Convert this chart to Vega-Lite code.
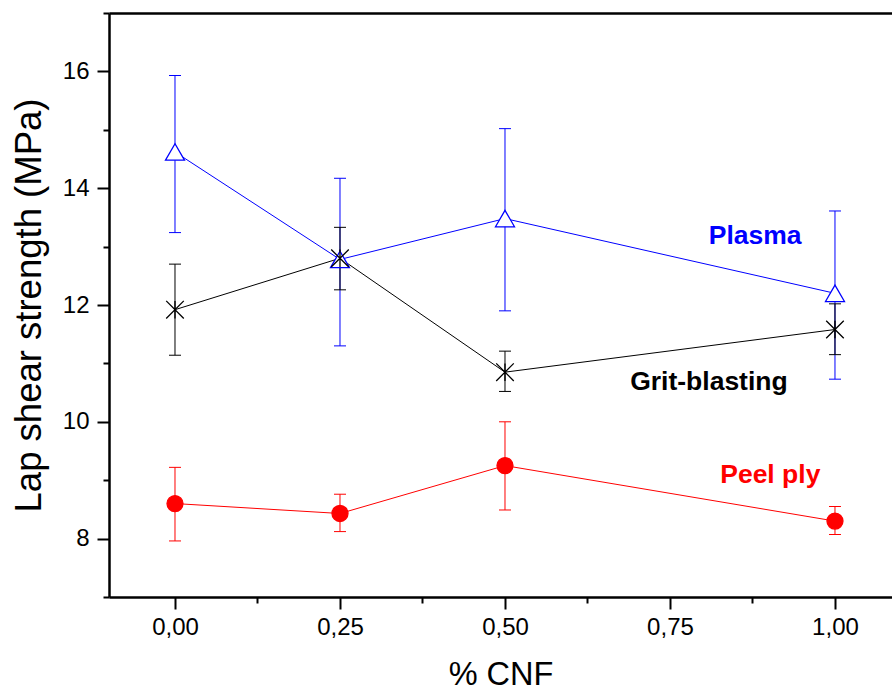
{
  "$schema": "https://vega.github.io/schema/vega-lite/v6.json",
  "width": 783,
  "height": 584,
  "autosize": {"type": "none"},
  "padding": {"left": 109, "top": 13, "right": 0, "bottom": 93},
  "config": {
    "view": {"stroke": null},
    "font": "Liberation Sans",
    "axis": {
      "grid": false,
      "domainColor": "#000000",
      "domainWidth": 2.5,
      "tickColor": "#000000",
      "tickWidth": 2,
      "labelColor": "#000000",
      "titleColor": "#000000",
      "titleFontWeight": "normal",
      "labelFont": "Liberation Sans",
      "titleFont": "Liberation Sans"
    }
  },
  "datasets": {
    "pts": [
      {"series": "Plasma", "cnf": 0.0, "mean": 14.62, "lo": 13.24, "hi": 15.93},
      {"series": "Plasma", "cnf": 0.25, "mean": 12.78, "lo": 11.3, "hi": 14.17},
      {"series": "Plasma", "cnf": 0.5, "mean": 13.48, "lo": 11.9, "hi": 15.02},
      {"series": "Plasma", "cnf": 1.0, "mean": 12.2, "lo": 10.73, "hi": 13.61},
      {"series": "Grit-blasting", "cnf": 0.0, "mean": 11.92, "lo": 11.14, "hi": 12.7},
      {"series": "Grit-blasting", "cnf": 0.25, "mean": 12.8, "lo": 12.26, "hi": 13.33},
      {"series": "Grit-blasting", "cnf": 0.5, "mean": 10.85, "lo": 10.52, "hi": 11.21},
      {"series": "Grit-blasting", "cnf": 1.0, "mean": 11.58, "lo": 11.15, "hi": 12.02},
      {"series": "Peel ply", "cnf": 0.0, "mean": 8.6, "lo": 7.96, "hi": 9.22},
      {"series": "Peel ply", "cnf": 0.25, "mean": 8.43, "lo": 8.12, "hi": 8.76},
      {"series": "Peel ply", "cnf": 0.5, "mean": 9.25, "lo": 8.49, "hi": 10.0},
      {"series": "Peel ply", "cnf": 1.0, "mean": 8.3, "lo": 8.07, "hi": 8.55}
    ],
    "labels": [
      {"series": "Plasma", "text": "Plasma", "cnf": 0.879, "val": 13.04},
      {"series": "Grit-blasting", "text": "Grit-blasting", "cnf": 0.809, "val": 10.54},
      {"series": "Peel ply", "text": "Peel ply", "cnf": 0.902, "val": 8.96}
    ]
  },
  "resolve": {"axis": {"x": "independent", "y": "independent"}},
  "layer": [
    {
      "data": {"name": "pts"},
      "mark": {"type": "rule", "strokeWidth": 1},
      "encoding": {
        "x": {"field": "cnf", "type": "quantitative", "scale": {"domain": [-0.1, 1.0864], "nice": false, "zero": false}, "axis": null},
        "y": {"field": "lo", "type": "quantitative", "scale": {"domain": [7, 17], "nice": false, "zero": false}, "axis": null},
        "y2": {"field": "hi"},
        "color": {"field": "series", "type": "nominal", "scale": {"domain": ["Plasma", "Grit-blasting", "Peel ply"], "range": ["#0000FF", "#000000", "#FF0000"]}, "legend": null}
      }
    },
    {
      "data": {"name": "pts"},
      "mark": {"type": "tick", "orient": "horizontal", "size": 12, "thickness": 1, "opacity": 1},
      "encoding": {
        "x": {"field": "cnf", "type": "quantitative", "scale": {"domain": [-0.1, 1.0864], "nice": false, "zero": false}, "axis": null},
        "y": {"field": "lo", "type": "quantitative", "scale": {"domain": [7, 17], "nice": false, "zero": false}, "axis": null},
        "color": {"field": "series", "type": "nominal", "legend": null}
      }
    },
    {
      "data": {"name": "pts"},
      "mark": {"type": "tick", "orient": "horizontal", "size": 12, "thickness": 1, "opacity": 1},
      "encoding": {
        "x": {"field": "cnf", "type": "quantitative", "scale": {"domain": [-0.1, 1.0864], "nice": false, "zero": false}, "axis": null},
        "y": {"field": "hi", "type": "quantitative", "scale": {"domain": [7, 17], "nice": false, "zero": false}, "axis": null},
        "color": {"field": "series", "type": "nominal", "legend": null}
      }
    },
    {
      "data": {"name": "pts"},
      "mark": {"type": "line", "strokeWidth": 1},
      "encoding": {
        "x": {
          "field": "cnf", "type": "quantitative",
          "scale": {"domain": [-0.1, 1.0864], "nice": false, "zero": false},
          "axis": {
            "orient": "bottom",
            "values": [0, 0.25, 0.5, 0.75, 1],
            "labelExpr": "replace(format(datum.value, '.2f'), '.', ',')",
            "tickSize": 12,
            "labelFontSize": 24,
            "labelPadding": 6,
            "title": "% CNF",
            "titleFontSize": 32.5,
            "titlePadding": 19
          }
        },
        "y": {
          "field": "mean", "type": "quantitative",
          "scale": {"domain": [7, 17], "nice": false, "zero": false},
          "axis": {
            "orient": "left",
            "values": [8, 10, 12, 14, 16],
            "tickSize": 12,
            "labelFontSize": 24,
            "labelPadding": 8,
            "title": "Lap shear strength (MPa)",
            "titleFontSize": 36.5,
            "titlePadding": 14
          }
        },
        "color": {"field": "series", "type": "nominal", "legend": null},
        "detail": {"field": "series"}
      }
    },
    {
      "data": {"name": "pts"},
      "mark": {"type": "point", "opacity": 1, "strokeWidth": 1.3},
      "encoding": {
        "x": {"field": "cnf", "type": "quantitative", "scale": {"domain": [-0.1, 1.0864], "nice": false, "zero": false}, "axis": null},
        "y": {"field": "mean", "type": "quantitative", "scale": {"domain": [7, 17], "nice": false, "zero": false}, "axis": null},
        "shape": {"field": "series", "type": "nominal", "scale": {"domain": ["Plasma", "Grit-blasting", "Peel ply"], "range": ["triangle-up", "M-1,-1L1,1M-1,1L1,-1M0,-1L0,1", "circle"]}, "legend": null},
        "size": {"field": "series", "type": "ordinal", "scale": {"domain": ["Plasma", "Grit-blasting", "Peel ply"], "range": [361, 256, 227]}, "legend": null},
        "stroke": {"field": "series", "type": "nominal", "scale": {"domain": ["Plasma", "Grit-blasting", "Peel ply"], "range": ["#0000FF", "#000000", "#FF0000"]}, "legend": null},
        "fill": {"field": "series", "type": "nominal", "scale": {"domain": ["Plasma", "Grit-blasting", "Peel ply"], "range": ["#FFFFFF", "transparent", "#FF0000"]}, "legend": null}
      }
    },
    {
      "data": {"name": "labels"},
      "mark": {"type": "text", "fontWeight": "bold", "fontSize": 26.5, "align": "center", "baseline": "alphabetic", "font": "Liberation Sans"},
      "encoding": {
        "x": {"field": "cnf", "type": "quantitative", "scale": {"domain": [-0.1, 1.0864], "nice": false, "zero": false}, "axis": null},
        "y": {"field": "val", "type": "quantitative", "scale": {"domain": [7, 17], "nice": false, "zero": false}, "axis": null},
        "text": {"field": "text"},
        "color": {"field": "series", "type": "nominal", "legend": null}
      }
    },
    {
      "data": {"name": "pts"},
      "mark": {"type": "point", "opacity": 0},
      "encoding": {
        "x": {
          "field": "cnf", "type": "quantitative",
          "scale": {"domain": [-0.1, 1.0864], "nice": false, "zero": false},
          "axis": {"orient": "bottom", "values": [0.125, 0.375, 0.625, 0.875], "tickSize": 6, "labels": false, "domain": false, "title": null}
        },
        "y": {
          "field": "mean", "type": "quantitative",
          "scale": {"domain": [7, 17], "nice": false, "zero": false},
          "axis": {"orient": "left", "values": [7, 9, 11, 13, 15, 17], "tickSize": 6, "labels": false, "domain": false, "title": null}
        }
      }
    },
    {
      "data": {"name": "pts"},
      "mark": {"type": "point", "opacity": 0},
      "encoding": {
        "x": {
          "field": "cnf", "type": "quantitative",
          "scale": {"domain": [-0.1, 1.0864], "nice": false, "zero": false},
          "axis": {"orient": "top", "ticks": false, "labels": false, "domain": true, "title": null}
        }
      }
    }
  ]
}
